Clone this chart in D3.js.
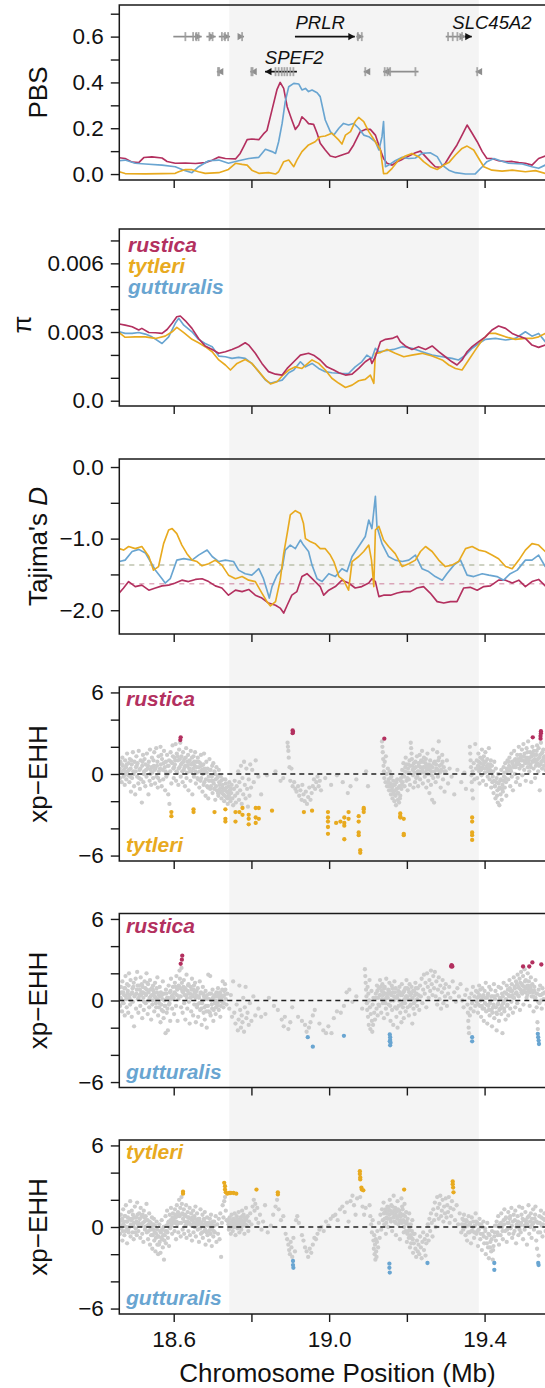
<!DOCTYPE html>
<html>
<head>
<meta charset="utf-8">
<script src="https://cdn.jsdelivr.net/npm/d3@7"></script>
<style>
  html, body { margin: 0; padding: 0; background: #fff; }
  svg { display: block; font-family: "Liberation Sans", Arial, Helvetica, sans-serif; }
</style>
</head>
<body>
<svg id="chart" width="545" height="1388"></svg>
<script>
// ---------------- data ----------------
// sliding-window statistics: [position (Mb), value]
const pbsRustica = [[18.460,0.071],[18.475,0.068],[18.493,0.052],[18.510,0.050],[18.523,0.072],[18.544,0.075],[18.570,0.070],[18.583,0.055],[18.604,0.047],[18.630,0.048],[18.656,0.046],[18.681,0.050],[18.699,0.060],[18.716,0.074],[18.733,0.068],[18.759,0.066],[18.771,0.090],[18.780,0.120],[18.789,0.150],[18.801,0.153],[18.819,0.150],[18.831,0.175],[18.840,0.190],[18.853,0.280],[18.866,0.370],[18.874,0.400],[18.883,0.374],[18.892,0.294],[18.904,0.236],[18.913,0.195],[18.922,0.214],[18.930,0.250],[18.939,0.236],[18.947,0.220],[18.960,0.217],[18.969,0.178],[18.977,0.134],[18.990,0.105],[19.003,0.079],[19.016,0.073],[19.033,0.083],[19.050,0.093],[19.063,0.127],[19.080,0.185],[19.093,0.195],[19.106,0.195],[19.119,0.170],[19.132,0.105],[19.140,0.068],[19.149,0.047],[19.162,0.039],[19.175,0.054],[19.188,0.064],[19.205,0.079],[19.222,0.093],[19.235,0.100],[19.248,0.076],[19.260,0.054],[19.273,0.032],[19.286,0.029],[19.299,0.047],[19.312,0.083],[19.329,0.127],[19.342,0.170],[19.355,0.214],[19.368,0.178],[19.381,0.141],[19.394,0.098],[19.406,0.068],[19.419,0.068],[19.436,0.058],[19.454,0.054],[19.471,0.055],[19.488,0.050],[19.505,0.047],[19.522,0.039],[19.539,0.068],[19.556,0.079],[19.580,0.082]];
const pbsTytleri = [[18.460,0.010],[18.475,0.002],[18.527,0.001],[18.570,0.002],[18.604,0.003],[18.613,0.010],[18.630,0.020],[18.647,0.019],[18.664,0.010],[18.681,0.003],[18.716,0.006],[18.741,0.020],[18.759,0.047],[18.776,0.042],[18.789,0.039],[18.801,0.017],[18.819,0.003],[18.844,0.006],[18.862,0.000],[18.870,0.010],[18.883,0.054],[18.896,0.061],[18.909,0.032],[18.917,0.061],[18.930,0.098],[18.947,0.127],[18.964,0.141],[18.977,0.163],[18.990,0.166],[19.007,0.178],[19.025,0.148],[19.033,0.131],[19.042,0.170],[19.055,0.185],[19.067,0.229],[19.076,0.247],[19.089,0.229],[19.102,0.185],[19.119,0.141],[19.132,0.105],[19.140,0.002],[19.149,0.003],[19.162,0.025],[19.179,0.061],[19.196,0.079],[19.213,0.090],[19.230,0.076],[19.243,0.054],[19.260,0.032],[19.278,0.020],[19.295,0.039],[19.308,0.050],[19.325,0.083],[19.342,0.112],[19.355,0.122],[19.372,0.105],[19.385,0.068],[19.398,0.032],[19.419,0.017],[19.445,0.013],[19.471,0.017],[19.505,0.010],[19.531,0.015],[19.556,0.003],[19.580,0.004]];
const pbsGutturalis = [[18.460,0.058],[18.475,0.061],[18.501,0.047],[18.527,0.044],[18.570,0.039],[18.604,0.032],[18.626,0.017],[18.647,0.006],[18.664,0.032],[18.690,0.058],[18.716,0.061],[18.741,0.047],[18.767,0.058],[18.793,0.068],[18.819,0.073],[18.836,0.108],[18.853,0.098],[18.862,0.090],[18.870,0.141],[18.879,0.221],[18.887,0.316],[18.896,0.381],[18.909,0.396],[18.922,0.393],[18.930,0.367],[18.939,0.374],[18.947,0.360],[18.956,0.367],[18.969,0.355],[18.977,0.338],[18.990,0.236],[19.003,0.185],[19.012,0.170],[19.025,0.200],[19.037,0.221],[19.050,0.214],[19.063,0.221],[19.076,0.200],[19.089,0.170],[19.102,0.163],[19.119,0.141],[19.128,0.105],[19.136,0.163],[19.140,0.229],[19.145,0.032],[19.153,0.039],[19.170,0.058],[19.188,0.073],[19.205,0.068],[19.222,0.070],[19.239,0.090],[19.260,0.093],[19.278,0.076],[19.291,0.039],[19.308,0.017],[19.325,0.006],[19.351,0.000],[19.376,0.001],[19.394,0.032],[19.406,0.054],[19.424,0.068],[19.441,0.058],[19.462,0.047],[19.497,0.044],[19.522,0.032],[19.539,0.025],[19.556,0.039],[19.580,0.042]];

const piRustica = [[18.460,0.00335],[18.475,0.00330],[18.493,0.00323],[18.510,0.00309],[18.518,0.00316],[18.536,0.00298],[18.553,0.00297],[18.570,0.00294],[18.583,0.00311],[18.596,0.00338],[18.608,0.00367],[18.617,0.00370],[18.630,0.00349],[18.647,0.00316],[18.664,0.00272],[18.681,0.00239],[18.699,0.00224],[18.716,0.00207],[18.733,0.00214],[18.750,0.00224],[18.767,0.00236],[18.784,0.00253],[18.793,0.00243],[18.810,0.00207],[18.827,0.00163],[18.844,0.00127],[18.862,0.00116],[18.879,0.00112],[18.892,0.00141],[18.909,0.00170],[18.926,0.00199],[18.947,0.00207],[18.960,0.00199],[18.977,0.00178],[18.994,0.00148],[19.012,0.00134],[19.025,0.00122],[19.042,0.00112],[19.059,0.00116],[19.076,0.00141],[19.093,0.00170],[19.106,0.00185],[19.110,0.00163],[19.119,0.00192],[19.132,0.00258],[19.145,0.00268],[19.162,0.00272],[19.175,0.00282],[19.183,0.00258],[19.196,0.00239],[19.213,0.00224],[19.230,0.00236],[19.248,0.00224],[19.265,0.00239],[19.282,0.00214],[19.299,0.00192],[19.316,0.00170],[19.329,0.00156],[19.342,0.00178],[19.355,0.00214],[19.368,0.00236],[19.385,0.00258],[19.402,0.00279],[19.419,0.00309],[19.436,0.00326],[19.454,0.00316],[19.471,0.00294],[19.488,0.00282],[19.505,0.00272],[19.522,0.00243],[19.539,0.00233],[19.556,0.00243],[19.580,0.00245]];
const piTytleri = [[18.460,0.00297],[18.475,0.00277],[18.501,0.00279],[18.527,0.00279],[18.553,0.00272],[18.578,0.00282],[18.596,0.00301],[18.608,0.00320],[18.626,0.00297],[18.647,0.00268],[18.664,0.00253],[18.681,0.00236],[18.699,0.00214],[18.716,0.00178],[18.733,0.00156],[18.746,0.00134],[18.763,0.00163],[18.784,0.00180],[18.801,0.00163],[18.819,0.00127],[18.836,0.00093],[18.849,0.00073],[18.866,0.00083],[18.879,0.00108],[18.896,0.00134],[18.913,0.00148],[18.930,0.00141],[18.956,0.00178],[18.973,0.00163],[18.990,0.00134],[19.007,0.00098],[19.025,0.00076],[19.042,0.00058],[19.059,0.00068],[19.076,0.00087],[19.093,0.00093],[19.106,0.00112],[19.115,0.00076],[19.119,0.00207],[19.132,0.00210],[19.149,0.00224],[19.170,0.00207],[19.192,0.00192],[19.213,0.00199],[19.239,0.00207],[19.265,0.00195],[19.291,0.00178],[19.308,0.00156],[19.325,0.00141],[19.342,0.00134],[19.359,0.00178],[19.376,0.00221],[19.394,0.00265],[19.411,0.00294],[19.428,0.00294],[19.454,0.00279],[19.479,0.00268],[19.505,0.00272],[19.522,0.00272],[19.539,0.00279],[19.556,0.00294],[19.580,0.00290]];
const piGutturalis = [[18.460,0.00301],[18.475,0.00294],[18.493,0.00294],[18.510,0.00298],[18.527,0.00291],[18.544,0.00279],[18.570,0.00250],[18.587,0.00279],[18.604,0.00338],[18.613,0.00360],[18.626,0.00330],[18.647,0.00301],[18.664,0.00268],[18.681,0.00250],[18.699,0.00236],[18.716,0.00195],[18.733,0.00192],[18.750,0.00185],[18.767,0.00189],[18.784,0.00185],[18.801,0.00163],[18.819,0.00127],[18.836,0.00090],[18.849,0.00076],[18.862,0.00083],[18.879,0.00090],[18.896,0.00122],[18.909,0.00134],[18.926,0.00170],[18.939,0.00148],[18.956,0.00163],[18.973,0.00141],[18.990,0.00127],[19.007,0.00122],[19.033,0.00119],[19.050,0.00119],[19.067,0.00148],[19.084,0.00170],[19.097,0.00199],[19.110,0.00185],[19.119,0.00229],[19.128,0.00214],[19.145,0.00218],[19.166,0.00224],[19.188,0.00236],[19.213,0.00229],[19.239,0.00214],[19.265,0.00199],[19.291,0.00192],[19.316,0.00185],[19.333,0.00178],[19.351,0.00199],[19.368,0.00229],[19.385,0.00250],[19.402,0.00268],[19.428,0.00272],[19.454,0.00265],[19.479,0.00272],[19.505,0.00301],[19.522,0.00282],[19.539,0.00294],[19.556,0.00258],[19.580,0.00262]];

const tajRustica = [[18.460,-1.76],[18.471,-1.69],[18.484,-1.60],[18.501,-1.67],[18.518,-1.65],[18.536,-1.72],[18.553,-1.69],[18.570,-1.66],[18.587,-1.65],[18.604,-1.62],[18.621,-1.58],[18.638,-1.60],[18.656,-1.57],[18.673,-1.56],[18.690,-1.60],[18.707,-1.66],[18.724,-1.69],[18.741,-1.79],[18.759,-1.72],[18.776,-1.74],[18.793,-1.71],[18.810,-1.79],[18.827,-1.83],[18.844,-1.90],[18.862,-1.93],[18.874,-1.97],[18.883,-2.04],[18.892,-1.93],[18.904,-1.79],[18.917,-1.74],[18.930,-1.53],[18.943,-1.49],[18.951,-1.53],[18.964,-1.60],[18.977,-1.67],[18.986,-1.79],[18.999,-1.72],[19.016,-1.67],[19.033,-1.58],[19.050,-1.62],[19.067,-1.69],[19.084,-1.67],[19.102,-1.62],[19.110,-1.56],[19.119,-1.60],[19.128,-1.81],[19.140,-1.79],[19.158,-1.79],[19.175,-1.76],[19.192,-1.74],[19.209,-1.74],[19.226,-1.69],[19.243,-1.67],[19.260,-1.76],[19.278,-1.88],[19.295,-1.90],[19.312,-1.88],[19.329,-1.88],[19.346,-1.69],[19.363,-1.68],[19.381,-1.72],[19.398,-1.67],[19.415,-1.66],[19.436,-1.58],[19.454,-1.58],[19.471,-1.62],[19.488,-1.58],[19.505,-1.67],[19.522,-1.60],[19.539,-1.57],[19.556,-1.66],[19.580,-1.64]];
const tajTytleri = [[18.460,-1.14],[18.471,-1.16],[18.484,-1.11],[18.501,-1.14],[18.518,-1.11],[18.536,-1.25],[18.548,-1.44],[18.561,-1.39],[18.574,-1.07],[18.587,-0.88],[18.596,-0.86],[18.608,-0.93],[18.621,-1.09],[18.634,-1.21],[18.647,-1.30],[18.660,-1.32],[18.673,-1.38],[18.690,-1.35],[18.707,-1.30],[18.724,-1.37],[18.741,-1.51],[18.759,-1.56],[18.776,-1.53],[18.793,-1.58],[18.810,-1.60],[18.827,-1.76],[18.840,-1.88],[18.849,-1.94],[18.862,-1.88],[18.874,-1.58],[18.883,-1.21],[18.892,-0.93],[18.900,-0.67],[18.913,-0.61],[18.926,-0.65],[18.934,-0.79],[18.939,-1.00],[18.951,-1.04],[18.964,-1.07],[18.977,-1.14],[18.990,-1.14],[19.003,-1.23],[19.012,-1.32],[19.025,-1.53],[19.037,-1.58],[19.050,-1.72],[19.059,-1.32],[19.076,-1.25],[19.089,-1.18],[19.102,-1.09],[19.109,-1.30],[19.115,-1.67],[19.119,-0.88],[19.128,-0.83],[19.140,-1.02],[19.153,-1.11],[19.170,-1.21],[19.188,-1.39],[19.205,-1.35],[19.222,-1.30],[19.235,-1.18],[19.248,-1.11],[19.265,-1.18],[19.282,-1.30],[19.299,-1.39],[19.316,-1.37],[19.333,-1.32],[19.351,-1.14],[19.368,-1.11],[19.385,-1.16],[19.402,-1.18],[19.419,-1.23],[19.436,-1.28],[19.454,-1.39],[19.471,-1.42],[19.488,-1.30],[19.505,-1.16],[19.522,-1.07],[19.539,-1.09],[19.556,-1.18],[19.580,-1.20]];
const tajGutturalis = [[18.460,-1.32],[18.475,-1.30],[18.493,-1.18],[18.510,-1.15],[18.527,-1.20],[18.540,-1.32],[18.553,-1.44],[18.570,-1.56],[18.578,-1.62],[18.591,-1.56],[18.608,-1.30],[18.626,-1.28],[18.647,-1.30],[18.664,-1.23],[18.686,-1.16],[18.699,-1.25],[18.716,-1.32],[18.733,-1.30],[18.754,-1.32],[18.767,-1.44],[18.784,-1.49],[18.801,-1.51],[18.819,-1.42],[18.831,-1.56],[18.840,-1.72],[18.846,-1.83],[18.853,-1.67],[18.866,-1.51],[18.879,-1.42],[18.887,-1.16],[18.900,-1.09],[18.913,-1.14],[18.926,-1.02],[18.934,-1.09],[18.947,-1.18],[18.956,-1.37],[18.969,-1.56],[18.982,-1.60],[18.999,-1.49],[19.016,-1.53],[19.033,-1.42],[19.046,-1.46],[19.059,-1.25],[19.076,-1.11],[19.093,-0.97],[19.102,-0.74],[19.110,-0.86],[19.119,-0.41],[19.123,-0.83],[19.136,-1.07],[19.153,-1.25],[19.170,-1.30],[19.188,-1.32],[19.205,-1.30],[19.222,-1.23],[19.239,-1.42],[19.256,-1.46],[19.273,-1.53],[19.291,-1.58],[19.303,-1.49],[19.321,-1.37],[19.338,-1.30],[19.355,-1.51],[19.372,-1.53],[19.394,-1.49],[19.411,-1.51],[19.432,-1.53],[19.449,-1.58],[19.466,-1.49],[19.484,-1.44],[19.505,-1.30],[19.522,-1.30],[19.539,-1.23],[19.556,-1.39],[19.580,-1.36]];
// genome-wide mean Tajima's D per population
const tajMeans = [["rustica",-1.63],["tytleri",-1.37],["gutturalis",-1.37]];

// xp-EHH per SNP: [position (Mb), score]; gray = not significant
const xpRusTytGray = [[18.461,0.4],[18.462,-0.3],[18.463,0.9],[18.465,0.1],[18.466,-0.6],[18.468,1.2],[18.469,0.6],[18.471,-0.2],[18.472,0.3],[18.474,-0.8],[18.475,1.0],[18.477,0.5],[18.478,-0.4],[18.480,1.5],[18.481,0.2],[18.483,-0.1],[18.484,0.8],[18.486,-0.6],[18.487,1.1],[18.489,0.4],[18.490,-1.3],[18.492,0.7],[18.493,-0.3],[18.495,1.6],[18.496,0.2],[18.498,-0.9],[18.499,0.9],[18.501,-1.5],[18.503,0.5],[18.504,1.3],[18.506,-0.2],[18.507,0.8],[18.509,-0.7],[18.510,1.7],[18.512,0.3],[18.513,-1.1],[18.515,1.0],[18.516,-0.4],[18.518,-2.1],[18.519,0.6],[18.521,1.4],[18.522,-0.6],[18.524,0.2],[18.525,1.1],[18.527,-0.9],[18.528,0.7],[18.530,-0.2],[18.531,1.5],[18.533,0.4],[18.535,-1.5],[18.536,0.9],[18.538,-0.5],[18.539,1.8],[18.541,0.3],[18.542,-0.8],[18.544,1.2],[18.545,0.1],[18.547,-0.3],[18.549,0.6],[18.550,1.6],[18.552,-0.7],[18.553,0.4],[18.555,1.9],[18.556,-0.2],[18.558,0.9],[18.559,-1.0],[18.561,1.3],[18.562,0.2],[18.564,-0.5],[18.566,2.0],[18.567,0.7],[18.569,-0.9],[18.570,1.1],[18.572,0.3],[18.573,-0.4],[18.575,1.7],[18.577,0.5],[18.578,-1.2],[18.580,0.9],[18.581,-0.2],[18.583,1.4],[18.585,0.6],[18.586,-1.5],[18.588,1.0],[18.589,-2.2],[18.591,0.2],[18.592,1.6],[18.594,-0.7],[18.596,0.8],[18.597,2.1],[18.599,0.4],[18.600,-0.3],[18.602,1.2],[18.603,0.7],[18.605,2.2],[18.606,-0.5],[18.608,1.5],[18.609,0.1],[18.611,1.0],[18.612,-0.8],[18.614,1.8],[18.615,0.5],[18.617,2.3],[18.618,-0.2],[18.620,1.3],[18.621,0.8],[18.623,-0.6],[18.624,1.6],[18.626,0.3],[18.627,1.1],[18.629,-0.9],[18.630,0.6],[18.632,1.9],[18.633,-0.3],[18.635,0.9],[18.637,1.4],[18.638,-1.2],[18.640,0.4],[18.641,1.0],[18.643,-0.5],[18.644,1.7],[18.646,0.2],[18.648,-1.5],[18.649,0.8],[18.651,1.3],[18.652,-0.2],[18.654,0.6],[18.655,1.6],[18.657,-0.7],[18.658,0.9],[18.660,0.1],[18.662,1.2],[18.663,-0.4],[18.665,0.5],[18.666,-1.0],[18.668,0.8],[18.670,1.4],[18.671,-0.3],[18.673,0.3],[18.674,-1.3],[18.676,0.7],[18.678,1.5],[18.679,-0.6],[18.681,0.2],[18.682,-1.6],[18.684,0.9],[18.686,-0.9],[18.687,0.4],[18.689,-1.8],[18.690,-0.2],[18.692,1.1],[18.694,-1.1],[18.695,0.3],[18.697,-0.5],[18.699,0.6],[18.700,-1.4],[18.702,0.8],[18.703,-0.7],[18.705,0.2],[18.707,-1.9],[18.708,-0.4],[18.710,0.5],[18.711,-1.2],[18.713,-0.1],[18.715,-1.6],[18.716,0.3],[18.718,-0.8],[18.720,-1.3],[18.722,-0.5],[18.723,-1.8],[18.725,-1.0],[18.727,-0.4],[18.728,-1.5],[18.730,-2.0],[18.732,-1.1],[18.734,-0.7],[18.735,-1.7],[18.737,-1.3],[18.739,-2.2],[18.741,-0.9],[18.742,-1.6],[18.744,-1.2],[18.746,-2.0],[18.748,-1.4],[18.749,-0.8],[18.751,-1.8],[18.753,-2.3],[18.755,-1.1],[18.757,-0.5],[18.758,-1.6],[18.760,-2.1],[18.762,-0.9],[18.764,-1.4],[18.766,0.2],[18.768,-1.9],[18.769,-0.6],[18.771,-1.2],[18.773,0.6],[18.775,-2.2],[18.777,-0.3],[18.779,-1.5],[18.781,0.9],[18.783,-0.8],[18.785,-1.8],[18.787,0.4],[18.789,-1.1],[18.791,-2.4],[18.793,-0.4],[18.795,-1.6],[18.797,0.7],[18.799,-1.0],[18.802,0.3],[18.806,-0.6],[18.811,1.0],[18.818,-0.2],[18.825,-1.5],[18.840,-0.1],[18.862,0.2],[18.875,-0.5],[18.882,-0.3],[18.893,2.3],[18.894,2.0],[18.895,1.7],[18.896,1.2],[18.898,0.5],[18.900,-0.5],[18.903,0.4],[18.906,-0.9],[18.910,-0.6],[18.913,-1.1],[18.916,-1.3],[18.920,-0.9],[18.923,-1.6],[18.926,-1.2],[18.929,-1.9],[18.931,-0.8],[18.934,-1.5],[18.937,-2.0],[18.940,-1.3],[18.943,-2.2],[18.946,-1.7],[18.949,-1.0],[18.952,-1.9],[18.955,-1.4],[18.958,-0.9],[18.961,-0.4],[18.964,-1.1],[18.967,-0.6],[18.970,-0.2],[18.973,-0.9],[18.976,-0.5],[18.979,-1.2],[18.990,-0.3],[19.005,-0.8],[19.020,-0.1],[19.035,-0.6],[19.048,-1.4],[19.055,-0.9],[19.070,-0.4],[19.095,0.2],[19.100,-0.9],[19.136,2.4],[19.137,2.0],[19.138,1.6],[19.139,1.1],[19.140,0.6],[19.141,0.2],[19.142,-0.3],[19.143,0.9],[19.145,-0.6],[19.146,1.3],[19.148,0.0],[19.149,-0.9],[19.151,0.4],[19.153,-0.4],[19.154,-1.2],[19.156,0.2],[19.157,-0.7],[19.159,-1.5],[19.160,-0.2],[19.162,-1.0],[19.163,-1.8],[19.165,-0.5],[19.166,-1.3],[19.168,-2.0],[19.169,-0.8],[19.171,-1.6],[19.172,-2.3],[19.174,-1.1],[19.175,-0.4],[19.177,-1.9],[19.178,-1.4],[19.180,-2.1],[19.181,-0.9],[19.183,-1.6],[19.185,-0.3],[19.186,-1.1],[19.188,0.3],[19.189,-0.6],[19.191,0.8],[19.193,-0.2],[19.194,-0.9],[19.196,0.5],[19.197,1.2],[19.199,-0.5],[19.200,0.1],[19.202,-1.2],[19.204,0.7],[19.205,-0.4],[19.207,1.0],[19.208,-0.8],[19.210,2.3],[19.211,1.9],[19.212,1.5],[19.213,1.1],[19.214,0.6],[19.216,-0.1],[19.217,-1.0],[19.219,0.4],[19.221,-0.6],[19.222,0.9],[19.224,-0.3],[19.226,1.3],[19.228,0.2],[19.229,-0.9],[19.231,0.6],[19.233,1.4],[19.234,-0.4],[19.236,0.9],[19.238,0.1],[19.239,1.7],[19.241,-0.7],[19.243,0.5],[19.244,1.2],[19.246,-0.2],[19.248,0.8],[19.250,-1.0],[19.251,0.3],[19.253,1.5],[19.255,-0.5],[19.257,0.7],[19.258,-1.4],[19.260,1.0],[19.262,-0.8],[19.263,0.2],[19.265,-1.9],[19.267,1.8],[19.268,-0.3],[19.270,-2.1],[19.272,0.9],[19.274,-0.6],[19.276,0.4],[19.278,1.6],[19.280,-0.2],[19.282,2.4],[19.283,1.2],[19.285,0.1],[19.287,-1.0],[19.289,0.7],[19.291,1.4],[19.293,-0.4],[19.295,0.5],[19.297,-1.3],[19.300,0.2],[19.303,1.0],[19.306,-0.7],[19.310,0.4],[19.315,-0.2],[19.322,-1.5],[19.330,0.3],[19.340,-0.6],[19.348,0.1],[19.352,-1.1],[19.362,2.0],[19.363,1.5],[19.364,1.0],[19.365,0.5],[19.366,-0.1],[19.367,-0.6],[19.368,-1.2],[19.369,0.2],[19.370,-1.8],[19.372,0.8],[19.374,-0.4],[19.376,2.2],[19.378,0.4],[19.380,1.0],[19.381,-0.3],[19.383,0.6],[19.384,1.5],[19.386,0.2],[19.387,-0.7],[19.389,1.2],[19.390,0.8],[19.392,-0.1],[19.393,1.8],[19.395,0.5],[19.396,-0.5],[19.398,1.3],[19.399,0.9],[19.401,0.1],[19.402,1.6],[19.404,-0.8],[19.405,0.4],[19.407,1.1],[19.408,-0.2],[19.410,0.7],[19.411,1.9],[19.413,-0.4],[19.414,0.3],[19.416,1.0],[19.417,-1.0],[19.419,0.6],[19.420,-0.6],[19.422,0.2],[19.423,-1.4],[19.425,0.9],[19.426,-0.9],[19.428,-1.8],[19.429,0.4],[19.431,-0.3],[19.432,-1.6],[19.434,-2.1],[19.435,0.0],[19.437,-1.1],[19.438,-2.3],[19.440,-0.5],[19.441,-1.5],[19.443,0.3],[19.444,-1.9],[19.446,-0.8],[19.447,-1.3],[19.449,0.5],[19.450,-0.2],[19.452,-1.0],[19.453,0.8],[19.455,-0.6],[19.456,-1.6],[19.458,0.2],[19.459,1.0],[19.461,-0.4],[19.463,0.6],[19.464,1.2],[19.466,-0.9],[19.467,0.3],[19.469,1.5],[19.470,-0.2],[19.472,0.8],[19.473,-1.2],[19.475,0.5],[19.476,1.7],[19.478,0.0],[19.479,1.1],[19.481,-0.6],[19.482,0.7],[19.484,1.4],[19.485,-0.3],[19.487,0.9],[19.488,2.0],[19.490,0.4],[19.491,-0.8],[19.493,1.2],[19.494,0.6],[19.496,1.8],[19.497,-0.1],[19.499,1.0],[19.500,2.2],[19.502,0.3],[19.503,1.5],[19.505,0.8],[19.506,-0.5],[19.508,1.9],[19.509,1.2],[19.511,0.5],[19.512,2.4],[19.514,1.0],[19.515,0.2],[19.517,1.6],[19.518,0.7],[19.520,-0.6],[19.521,1.3],[19.523,2.0],[19.524,0.9],[19.526,0.4],[19.527,1.7],[19.529,1.1],[19.530,-0.3],[19.532,0.6],[19.533,1.4],[19.535,2.1],[19.536,0.8],[19.538,0.2],[19.539,1.9],[19.541,1.2],[19.542,-1.2],[19.544,0.7],[19.545,2.3],[19.547,1.5],[19.548,0.4],[19.550,1.0],[19.551,1.8],[19.553,0.6],[19.555,1.3],[19.557,0.3],[19.560,1.1],[19.565,0.8],[19.570,1.4]];
const xpRusTytGrayCore = [[18.463,0.2],[18.467,0.7],[18.473,-0.1],[18.476,0.1],[18.479,0.7],[18.485,0.3],[18.488,-0.2],[18.491,1.0],[18.497,0.0],[18.502,0.2],[18.505,0.6],[18.511,-0.3],[18.514,0.4],[18.520,0.9],[18.523,0.0],[18.529,0.3],[18.534,0.6],[18.540,0.0],[18.543,0.5],[18.548,1.0],[18.551,0.3],[18.557,0.6],[18.560,-0.3],[18.565,0.4],[18.568,1.4],[18.574,0.8],[18.579,0.2],[18.584,0.0],[18.587,0.6],[18.593,0.9],[18.598,1.3],[18.601,0.5],[18.604,1.0],[18.607,0.2],[18.610,1.3],[18.613,0.4],[18.616,1.1],[18.619,0.7],[18.622,0.2],[18.625,0.9],[18.628,0.5],[18.631,1.2],[18.634,0.1],[18.636,0.6],[18.639,0.9],[18.642,0.2],[18.645,0.7],[18.647,1.2],[18.650,0.4],[18.653,0.9],[18.656,0.2],[18.659,0.5],[18.661,-0.3],[18.664,0.9],[18.667,0.2],[18.669,-0.5],[18.672,0.6],[18.675,0.0],[18.677,-0.8],[18.680,0.4],[18.683,-0.4],[18.685,0.1],[18.688,-1.0],[18.691,-0.5],[18.693,0.3],[18.696,-0.9],[18.698,-0.2],[18.701,-0.5],[18.704,-1.1],[18.706,0.0],[18.709,-0.9],[18.712,-0.3],[18.714,-1.4],[18.717,-0.6],[18.719,-1.1],[18.721,-0.2],[18.724,-1.4],[18.726,-0.8],[18.729,-1.2],[18.731,-1.6],[18.733,-0.4],[18.736,-1.0],[18.738,-1.8],[18.740,-1.4],[18.743,-0.6],[18.745,-1.8],[18.747,-1.1],[19.152,-0.6],[19.155,-0.9],[19.158,-0.3],[19.161,-1.2],[19.164,-0.8],[19.167,-1.5],[19.170,-1.2],[19.173,-0.6],[19.176,-1.4],[19.179,-1.0],[19.182,-1.8],[19.184,-0.5],[19.187,-0.8],[19.190,-0.1],[19.195,0.2],[19.198,0.7],[19.201,-0.3],[19.203,0.4],[19.206,0.1],[19.209,0.6],[19.215,0.3],[19.218,0.8],[19.220,0.1],[19.223,0.5],[19.227,-0.2],[19.230,0.8],[19.232,0.2],[19.235,0.5],[19.237,1.0],[19.240,0.3],[19.242,0.9],[19.245,0.1],[19.247,0.5],[19.249,1.1],[19.252,0.6],[19.254,0.0],[19.256,0.4],[19.259,0.3],[19.261,0.6],[19.264,-0.1],[19.266,0.5],[19.269,0.8],[19.271,0.2],[19.275,0.7],[19.279,0.3],[19.281,1.0],[19.284,0.6],[19.288,0.3],[19.292,0.9],[19.296,0.2],[19.382,0.4],[19.385,0.9],[19.388,0.5],[19.391,0.3],[19.394,1.1],[19.397,0.7],[19.400,0.4],[19.403,0.9],[19.406,0.6],[19.409,0.2],[19.412,0.5],[19.415,0.7],[19.418,0.1],[19.421,-0.2],[19.424,-0.5],[19.427,-0.9],[19.430,-0.6],[19.433,-1.2],[19.436,-0.7],[19.439,-1.0],[19.442,-0.4],[19.445,-1.1],[19.448,-0.5],[19.451,0.1],[19.454,-0.3],[19.457,0.4],[19.460,0.3],[19.462,0.9],[19.465,0.5],[19.468,0.2],[19.471,0.9],[19.474,0.6],[19.477,1.0],[19.480,0.5],[19.483,0.9],[19.486,1.1],[19.489,0.7],[19.492,1.4],[19.495,1.0],[19.498,0.6],[19.501,1.3],[19.504,0.9],[19.507,1.1],[19.510,1.6],[19.513,0.8],[19.516,1.2],[19.519,0.5],[19.522,1.5],[19.525,1.0],[19.528,1.4],[19.531,0.9],[19.534,1.7],[19.537,1.1],[19.540,0.6],[19.543,1.4],[19.546,0.9],[19.549,1.6],[19.552,1.2],[19.556,0.9]];
const xpRusTytRustica = [[18.617,2.5],[18.618,2.7],[18.906,3.0],[18.906,3.2],[18.907,3.1],[19.142,2.6],[19.524,2.7],[19.544,2.6],[19.544,2.8],[19.545,3.0],[19.545,3.15]];
const xpRusTytTytleri = [[18.594,-2.8],[18.594,-3.1],[18.651,-2.6],[18.651,-2.8],[18.705,-2.8],[18.733,-2.6],[18.733,-3.3],[18.733,-3.5],[18.759,-2.8],[18.759,-3.5],[18.769,-2.8],[18.777,-2.5],[18.777,-3.0],[18.793,-3.0],[18.793,-3.3],[18.793,-3.7],[18.811,-2.5],[18.811,-3.2],[18.811,-3.6],[18.819,-2.5],[18.819,-3.3],[18.853,-2.7],[18.935,-2.8],[18.956,-2.7],[18.997,-2.8],[18.997,-3.2],[18.997,-3.5],[18.997,-3.9],[18.997,-4.4],[19.018,-3.6],[19.029,-3.5],[19.039,-3.2],[19.039,-3.6],[19.039,-3.8],[19.039,-4.8],[19.050,-2.8],[19.050,-3.3],[19.076,-3.1],[19.076,-3.5],[19.076,-4.3],[19.076,-4.5],[19.080,-5.6],[19.080,-5.8],[19.089,-2.5],[19.089,-2.6],[19.089,-2.8],[19.183,-2.9],[19.183,-3.1],[19.183,-3.2],[19.192,-3.3],[19.192,-4.4],[19.192,-4.5],[19.368,-3.2],[19.368,-3.5],[19.368,-4.3],[19.368,-4.5],[19.368,-4.85]];

const xpRusGutGray = [[18.461,0.5],[18.462,-0.4],[18.464,1.0],[18.465,0.1],[18.467,-0.8],[18.468,1.4],[18.470,0.6],[18.471,-0.2],[18.473,0.9],[18.474,-1.1],[18.476,1.8],[18.477,0.3],[18.479,-0.5],[18.480,1.2],[18.482,0.7],[18.483,-0.9],[18.485,2.0],[18.486,0.2],[18.488,-0.3],[18.489,1.5],[18.491,0.5],[18.492,-1.2],[18.494,0.9],[18.495,-0.1],[18.497,1.3],[18.498,-1.9],[18.500,0.4],[18.502,1.6],[18.503,-0.6],[18.505,0.8],[18.506,2.1],[18.508,0.1],[18.509,-0.9],[18.511,1.1],[18.512,0.4],[18.514,-0.4],[18.515,1.7],[18.517,0.6],[18.519,-1.3],[18.520,1.0],[18.522,0.2],[18.523,-0.7],[18.525,1.4],[18.526,0.5],[18.528,-0.2],[18.530,2.0],[18.531,0.8],[18.533,-1.0],[18.534,1.2],[18.536,0.0],[18.537,-0.5],[18.539,1.5],[18.541,0.3],[18.542,-1.4],[18.544,0.9],[18.545,-0.3],[18.547,1.1],[18.549,0.5],[18.550,-0.8],[18.552,1.3],[18.553,0.2],[18.555,-0.5],[18.556,0.9],[18.558,1.7],[18.560,-1.1],[18.561,0.4],[18.563,-0.2],[18.564,1.0],[18.566,-1.6],[18.567,0.6],[18.569,-0.7],[18.571,0.1],[18.572,1.4],[18.574,-1.3],[18.575,0.5],[18.577,-0.4],[18.579,-2.4],[18.580,0.8],[18.582,-0.9],[18.583,0.2],[18.585,-2.2],[18.587,1.1],[18.588,-0.3],[18.590,0.6],[18.591,-1.5],[18.593,1.6],[18.595,0.3],[18.596,-0.6],[18.598,1.0],[18.600,0.2],[18.601,-1.0],[18.603,1.3],[18.604,0.5],[18.606,-0.4],[18.607,1.8],[18.609,0.8],[18.610,-1.5],[18.612,0.1],[18.613,1.1],[18.615,2.2],[18.616,1.6],[18.617,0.9],[18.618,0.3],[18.619,-0.5],[18.620,2.4],[18.621,1.3],[18.623,-0.9],[18.624,0.6],[18.626,1.5],[18.627,-0.2],[18.629,0.9],[18.630,-1.4],[18.632,0.4],[18.633,1.9],[18.635,-0.6],[18.636,0.7],[18.638,1.2],[18.639,-0.1],[18.641,-1.7],[18.642,0.5],[18.644,1.0],[18.645,-0.8],[18.647,1.6],[18.648,0.3],[18.650,-1.1],[18.651,0.8],[18.653,-0.3],[18.655,1.3],[18.657,-1.6],[18.658,0.4],[18.660,-0.5],[18.662,0.9],[18.663,-1.2],[18.665,0.2],[18.667,1.4],[18.668,-0.7],[18.670,0.6],[18.672,-1.8],[18.673,-0.2],[18.675,1.0],[18.677,-0.9],[18.678,0.3],[18.680,-1.4],[18.682,0.7],[18.683,-0.4],[18.685,-2.0],[18.687,0.1],[18.689,1.9],[18.690,-0.8],[18.692,0.5],[18.694,1.8],[18.695,-1.1],[18.697,0.0],[18.699,-0.6],[18.700,0.8],[18.702,-1.5],[18.704,0.3],[18.706,-0.2],[18.708,-1.0],[18.710,0.6],[18.712,-0.4],[18.714,0.9],[18.716,-0.7],[18.718,0.2],[18.720,-1.2],[18.722,0.4],[18.724,-0.1],[18.726,1.4],[18.728,-0.5],[18.730,0.7],[18.732,1.2],[18.734,0.1],[18.736,-0.3],[18.738,0.5],[18.743,-0.6],[18.747,0.4],[18.750,-1.2],[18.753,1.4],[18.756,-0.9],[18.759,-1.7],[18.762,-0.3],[18.765,-2.2],[18.767,-1.4],[18.769,1.1],[18.771,-0.7],[18.773,-2.0],[18.775,-1.1],[18.777,-1.6],[18.779,0.2],[18.781,-2.3],[18.783,-0.5],[18.785,1.0],[18.787,-1.3],[18.790,-0.9],[18.793,-1.8],[18.796,-0.2],[18.800,-1.5],[18.805,0.3],[18.810,-1.1],[18.818,-0.6],[18.825,-1.2],[18.836,-1.0],[18.845,0.2],[18.858,-0.4],[18.868,-0.7],[18.878,-1.4],[18.883,-1.9],[18.886,-1.2],[18.895,-2.1],[18.900,-1.6],[18.905,-0.5],[18.920,-1.2],[18.930,-1.5],[18.938,-1.8],[18.942,-2.3],[18.948,-2.0],[18.952,-1.6],[18.958,-1.1],[18.963,-0.7],[18.975,-1.7],[18.985,-2.2],[18.992,-2.4],[18.998,-1.9],[19.006,-2.4],[19.012,-1.3],[19.020,-0.8],[19.030,-0.9],[19.038,-0.4],[19.045,0.6],[19.052,0.8],[19.060,-0.1],[19.070,0.3],[19.085,-0.6],[19.092,2.3],[19.093,1.8],[19.094,1.3],[19.095,0.8],[19.096,0.3],[19.097,-0.2],[19.098,-0.7],[19.099,1.0],[19.100,-1.2],[19.101,0.5],[19.102,-1.8],[19.103,0.0],[19.104,1.5],[19.105,-0.5],[19.106,-2.1],[19.107,-1.0],[19.109,0.7],[19.110,-1.5],[19.111,-2.3],[19.112,-0.3],[19.113,-1.8],[19.114,0.2],[19.116,-0.9],[19.118,-1.4],[19.120,0.5],[19.122,-0.6],[19.123,1.1],[19.125,-1.1],[19.126,0.2],[19.128,0.9],[19.129,-0.4],[19.131,1.5],[19.132,0.4],[19.134,-0.9],[19.135,0.7],[19.137,1.2],[19.138,-0.2],[19.140,0.6],[19.141,-1.3],[19.143,1.0],[19.144,0.1],[19.146,-0.6],[19.147,1.6],[19.149,0.3],[19.150,-1.0],[19.152,0.8],[19.153,-0.3],[19.155,1.3],[19.156,0.5],[19.158,-1.5],[19.159,0.0],[19.161,1.1],[19.162,-0.7],[19.164,0.6],[19.165,-1.8],[19.167,0.3],[19.168,1.4],[19.170,-0.5],[19.171,0.9],[19.173,-1.2],[19.175,0.2],[19.176,-2.0],[19.178,0.7],[19.179,-0.4],[19.181,1.0],[19.183,-0.9],[19.184,0.4],[19.186,-1.6],[19.187,1.2],[19.189,-0.2],[19.191,0.6],[19.192,-1.3],[19.194,0.1],[19.196,0.9],[19.197,-0.8],[19.199,1.5],[19.200,0.3],[19.202,-0.5],[19.204,0.8],[19.205,-1.1],[19.207,1.2],[19.209,0.4],[19.210,-0.3],[19.212,1.0],[19.214,-1.7],[19.215,0.2],[19.217,-0.6],[19.219,0.7],[19.220,-1.0],[19.222,1.3],[19.224,0.0],[19.226,-0.4],[19.228,0.9],[19.230,0.4],[19.232,-0.7],[19.234,1.1],[19.236,0.3],[19.238,1.6],[19.240,-0.2],[19.242,0.8],[19.244,1.9],[19.246,0.5],[19.248,1.3],[19.250,-0.5],[19.252,2.0],[19.254,1.0],[19.256,0.2],[19.258,1.5],[19.260,0.7],[19.262,2.2],[19.264,1.2],[19.266,0.4],[19.268,1.8],[19.270,0.9],[19.272,2.1],[19.274,0.3],[19.276,1.4],[19.278,-0.3],[19.280,0.8],[19.282,1.7],[19.284,0.1],[19.286,1.1],[19.288,-0.6],[19.290,0.6],[19.292,1.5],[19.294,-0.2],[19.296,0.9],[19.298,0.3],[19.300,1.2],[19.303,-0.4],[19.306,0.5],[19.309,1.0],[19.312,0.2],[19.318,1.4],[19.322,0.6],[19.326,-0.1],[19.330,0.9],[19.334,0.3],[19.338,1.2],[19.342,0.0],[19.346,-0.5],[19.350,0.4],[19.354,0.8],[19.356,-0.3],[19.357,-0.9],[19.358,-1.5],[19.359,-2.0],[19.360,-2.4],[19.361,0.2],[19.362,-1.1],[19.364,-0.6],[19.366,0.5],[19.368,-0.2],[19.370,1.0],[19.372,-0.8],[19.374,0.3],[19.376,-0.4],[19.378,0.7],[19.380,-0.1],[19.382,0.6],[19.383,-0.9],[19.385,0.3],[19.386,1.1],[19.388,-0.4],[19.389,0.8],[19.391,-1.2],[19.392,0.1],[19.394,0.9],[19.395,-0.6],[19.397,0.4],[19.398,-1.5],[19.400,0.7],[19.401,-0.2],[19.403,1.3],[19.404,-0.8],[19.406,0.2],[19.407,-1.7],[19.409,0.5],[19.410,-0.4],[19.412,1.0],[19.413,-1.1],[19.415,0.0],[19.416,0.8],[19.418,-0.7],[19.419,-1.9],[19.421,0.3],[19.422,-0.5],[19.424,1.2],[19.425,-1.3],[19.427,0.1],[19.428,0.7],[19.430,-0.9],[19.431,-2.2],[19.433,0.4],[19.434,-0.3],[19.436,1.0],[19.437,-1.5],[19.439,0.2],[19.440,-0.6],[19.442,0.9],[19.443,-1.0],[19.445,0.5],[19.446,-2.4],[19.448,-0.2],[19.449,1.3],[19.451,-0.8],[19.452,0.6],[19.454,-1.4],[19.455,0.1],[19.457,1.1],[19.458,-0.4],[19.460,0.8],[19.461,-1.1],[19.463,0.3],[19.464,1.5],[19.466,-0.6],[19.467,0.7],[19.469,-0.1],[19.470,1.2],[19.472,0.4],[19.473,-0.9],[19.475,1.7],[19.476,0.2],[19.478,0.9],[19.479,-0.5],[19.481,1.4],[19.482,0.6],[19.484,-0.2],[19.485,1.9],[19.487,1.0],[19.488,0.3],[19.490,1.6],[19.491,-0.7],[19.493,0.8],[19.494,2.1],[19.496,1.2],[19.497,0.5],[19.499,1.8],[19.500,-0.3],[19.502,1.0],[19.503,2.3],[19.505,0.6],[19.506,1.5],[19.508,0.2],[19.510,1.1],[19.511,2.0],[19.513,0.7],[19.514,1.4],[19.516,-0.4],[19.518,0.9],[19.519,1.7],[19.521,0.3],[19.523,1.2],[19.524,0.6],[19.526,-0.8],[19.528,1.0],[19.529,0.2],[19.531,1.5],[19.533,0.5],[19.534,-0.5],[19.536,-1.6],[19.537,-2.1],[19.539,0.8],[19.541,-0.2],[19.543,1.1],[19.545,0.4],[19.547,-0.6],[19.549,0.9],[19.552,0.1],[19.555,0.6],[19.560,-0.3],[19.566,0.5]];
const xpRusGutGrayCore = [[18.463,0.2],[18.466,0.6],[18.469,-0.2],[18.472,0.4],[18.475,0.9],[18.478,0.1],[18.481,0.5],[18.484,1.1],[18.487,0.4],[18.490,0.0],[18.493,0.6],[18.496,1.0],[18.499,0.3],[18.504,0.5],[18.507,1.1],[18.510,0.2],[18.513,0.8],[18.516,0.4],[18.518,1.2],[18.521,0.6],[18.524,-0.1],[18.527,0.9],[18.529,0.4],[18.532,1.3],[18.535,0.6],[18.538,0.2],[18.540,0.8],[18.543,0.4],[18.546,0.0],[18.548,0.7],[18.551,0.3],[18.554,-0.2],[18.557,0.6],[18.559,0.1],[18.562,-0.5],[18.565,0.3],[18.568,-0.3],[18.570,0.4],[18.573,-0.8],[18.576,0.0],[18.578,-0.4],[18.581,0.5],[18.584,-0.6],[18.586,0.2],[18.589,-0.2],[18.592,0.7],[18.594,0.1],[18.597,0.4],[18.602,0.6],[18.605,1.0],[18.608,0.4],[18.611,0.9],[18.614,0.3],[18.622,0.7],[18.625,1.0],[18.628,0.4],[18.631,0.8],[18.634,0.2],[18.637,1.1],[18.640,0.5],[18.643,0.2],[18.646,0.8],[18.649,0.4],[18.652,1.1],[18.654,0.6],[18.656,0.2],[18.659,0.7],[18.661,-0.3],[18.664,0.3],[18.666,-0.2],[18.669,0.5],[18.671,-0.6],[18.674,0.0],[18.676,0.5],[18.679,-0.5],[18.681,0.2],[18.684,-0.8],[18.686,0.4],[18.688,-0.4],[18.691,0.1],[18.693,-0.9],[18.696,0.5],[18.698,-0.3],[18.701,0.2],[18.703,-0.7],[18.705,0.4],[18.707,0.0],[18.709,-0.5],[18.711,0.3],[18.713,-0.2],[18.715,0.4],[18.717,0.0],[18.719,0.6],[18.721,-0.4],[18.723,0.2],[18.725,0.8],[18.727,0.3],[18.729,-0.2],[18.731,0.4],[18.733,0.8],[19.121,0.2],[19.124,0.7],[19.127,-0.3],[19.130,0.4],[19.133,1.0],[19.136,0.1],[19.139,0.4],[19.142,0.9],[19.145,-0.2],[19.148,0.5],[19.151,0.2],[19.154,0.7],[19.157,-0.4],[19.160,0.4],[19.163,0.9],[19.166,0.0],[19.169,0.6],[19.172,0.2],[19.174,-0.6],[19.177,0.4],[19.180,0.0],[19.182,0.6],[19.185,-0.3],[19.188,0.4],[19.190,-0.5],[19.193,0.7],[19.195,-0.2],[19.198,0.3],[19.201,0.9],[19.203,0.1],[19.206,0.6],[19.208,-0.4],[19.211,0.5],[19.213,0.1],[19.216,0.7],[19.218,-0.2],[19.221,0.4],[19.223,0.9],[19.225,0.5],[19.227,0.1],[19.381,0.2],[19.384,-0.3],[19.387,0.4],[19.390,0.0],[19.393,-0.4],[19.396,0.3],[19.399,-0.6],[19.402,0.2],[19.405,-0.3],[19.408,0.4],[19.411,-0.7],[19.414,-0.2],[19.417,0.3],[19.420,-0.9],[19.423,-0.3],[19.426,0.3],[19.429,-0.5],[19.432,-1.0],[19.435,-0.2],[19.438,-0.7],[19.441,0.1],[19.444,-0.4],[19.447,0.3],[19.450,-0.6],[19.453,0.0],[19.456,0.5],[19.459,-0.3],[19.462,0.4],[19.465,0.9],[19.468,0.3],[19.471,0.7],[19.474,0.2],[19.477,1.0],[19.480,0.5],[19.483,1.2],[19.486,0.4],[19.489,0.9],[19.492,1.3],[19.495,0.6],[19.498,1.1],[19.501,0.7],[19.504,1.4],[19.507,0.9],[19.510,0.4],[19.513,1.0],[19.516,0.6],[19.519,1.1],[19.522,0.7],[19.525,0.3],[19.528,0.7],[19.531,0.2],[19.535,0.5],[19.538,-0.1],[19.542,0.4],[19.546,0.0],[19.550,0.5]];
const xpRusGutRustica = [[18.618,2.7],[18.621,3.0],[18.622,3.3],[19.314,2.5],[19.315,2.6],[19.316,2.55],[19.317,2.5],[19.499,2.5],[19.515,2.5],[19.523,2.8],[19.546,2.65]];
const xpRusGutGutturalis = [[18.945,-2.7],[18.958,-3.4],[19.038,-2.6],[19.156,-2.5],[19.157,-2.7],[19.157,-2.9],[19.158,-3.1],[19.157,-3.3],[19.156,-3.0],[19.368,-2.7],[19.368,-3.0],[19.537,-2.45],[19.538,-2.7],[19.539,-2.95],[19.540,-3.2]];

const xpTytGutGray = [[18.461,0.3],[18.462,-0.5],[18.464,0.9],[18.465,-0.1],[18.467,0.6],[18.468,-1.0],[18.470,1.3],[18.471,0.2],[18.473,-0.6],[18.474,0.8],[18.476,-0.3],[18.477,1.6],[18.479,0.4],[18.480,-1.2],[18.482,0.7],[18.483,-0.2],[18.485,1.1],[18.486,0.0],[18.488,1.9],[18.489,-0.7],[18.491,0.5],[18.492,1.2],[18.494,-0.4],[18.495,0.9],[18.497,-0.9],[18.498,0.3],[18.500,1.5],[18.502,-0.1],[18.503,0.7],[18.505,-0.6],[18.506,1.8],[18.508,0.2],[18.509,-0.3],[18.511,1.0],[18.512,0.6],[18.514,-0.8],[18.515,1.4],[18.517,0.1],[18.519,-0.5],[18.520,0.9],[18.522,-1.1],[18.523,1.2],[18.525,0.4],[18.526,-0.2],[18.528,0.8],[18.530,1.7],[18.531,-0.4],[18.533,0.5],[18.534,-0.9],[18.536,0.2],[18.537,1.0],[18.539,-1.3],[18.541,0.3],[18.542,-0.6],[18.544,0.7],[18.545,-1.6],[18.547,-0.2],[18.549,0.6],[18.550,-1.0],[18.552,0.1],[18.553,-1.8],[18.555,-0.5],[18.556,0.4],[18.558,-1.3],[18.560,-2.0],[18.561,-0.7],[18.563,0.2],[18.564,-1.1],[18.566,-1.9],[18.567,-0.4],[18.569,0.5],[18.571,-0.9],[18.572,-1.5],[18.574,0.0],[18.575,-2.4],[18.577,-0.6],[18.579,0.8],[18.580,-1.2],[18.582,-0.3],[18.583,1.2],[18.585,-0.8],[18.587,0.4],[18.588,-1.4],[18.590,0.9],[18.591,-0.1],[18.593,1.4],[18.595,0.3],[18.596,-0.5],[18.598,1.0],[18.600,0.5],[18.602,-0.3],[18.603,1.3],[18.605,0.7],[18.606,-0.9],[18.608,1.6],[18.609,0.2],[18.611,1.1],[18.612,-0.4],[18.614,2.0],[18.615,0.8],[18.617,1.4],[18.618,-0.7],[18.619,0.3],[18.620,2.2],[18.621,1.7],[18.622,1.0],[18.623,-0.2],[18.624,0.6],[18.626,1.3],[18.627,-0.5],[18.629,0.9],[18.630,0.1],[18.632,1.6],[18.633,-0.8],[18.635,0.4],[18.636,1.1],[18.638,-0.3],[18.639,0.7],[18.641,1.4],[18.642,-0.6],[18.644,0.2],[18.645,1.0],[18.647,-1.0],[18.648,0.5],[18.650,1.2],[18.651,-0.4],[18.653,0.8],[18.654,0.0],[18.656,1.5],[18.657,-0.7],[18.659,0.3],[18.660,1.0],[18.662,-0.2],[18.664,0.6],[18.665,-1.1],[18.667,0.4],[18.669,1.3],[18.670,-0.5],[18.672,0.1],[18.674,0.9],[18.675,-0.8],[18.677,0.5],[18.679,-0.3],[18.680,1.1],[18.682,-1.3],[18.684,0.2],[18.686,0.7],[18.687,-0.6],[18.689,0.3],[18.691,-1.0],[18.693,0.6],[18.694,-0.2],[18.696,0.9],[18.698,-1.4],[18.700,0.1],[18.702,-0.7],[18.704,0.4],[18.706,-0.4],[18.708,0.8],[18.710,-1.1],[18.712,0.2],[18.714,-0.5],[18.716,0.6],[18.718,-0.9],[18.720,1.0],[18.722,-2.2],[18.724,0.3],[18.726,1.6],[18.728,0.7],[18.730,1.9],[18.732,2.2],[18.734,1.2],[18.736,0.5],[18.740,0.4],[18.742,-0.2],[18.744,0.7],[18.745,0.1],[18.747,-0.5],[18.749,0.9],[18.750,0.3],[18.752,-0.3],[18.754,0.6],[18.755,0.0],[18.757,1.0],[18.759,-0.6],[18.760,0.4],[18.762,0.8],[18.764,-0.1],[18.765,0.5],[18.767,1.1],[18.769,-0.4],[18.770,0.2],[18.772,0.7],[18.774,-0.2],[18.776,1.2],[18.778,0.3],[18.780,0.9],[18.782,-0.5],[18.784,0.5],[18.786,1.4],[18.788,0.1],[18.790,0.8],[18.792,-0.3],[18.794,0.4],[18.797,1.0],[18.800,0.2],[18.803,1.5],[18.806,2.0],[18.808,1.2],[18.810,1.7],[18.812,0.6],[18.815,1.4],[18.818,0.3],[18.822,0.9],[18.826,-0.2],[18.830,0.4],[18.835,1.6],[18.842,-0.4],[18.850,0.1],[18.856,0.9],[18.862,1.5],[18.866,2.0],[18.870,1.3],[18.876,0.5],[18.882,0.8],[18.888,-0.5],[18.892,-0.9],[18.895,-1.3],[18.897,-1.7],[18.899,-2.0],[18.901,-1.1],[18.903,-1.5],[18.905,-2.2],[18.908,-0.8],[18.912,-1.8],[18.915,0.5],[18.918,0.8],[18.922,0.3],[18.930,-0.6],[18.934,-1.0],[18.938,-1.5],[18.942,-1.8],[18.946,-2.2],[18.950,-1.6],[18.954,-1.9],[18.958,-1.3],[18.962,-0.8],[18.966,-0.9],[18.970,-0.5],[18.975,-0.2],[18.980,0.0],[18.986,-0.3],[18.992,0.4],[18.998,0.1],[19.004,0.6],[19.010,0.8],[19.016,0.9],[19.022,0.5],[19.028,1.3],[19.034,1.5],[19.040,1.1],[19.046,1.8],[19.050,0.4],[19.055,1.9],[19.060,2.3],[19.064,1.6],[19.068,0.9],[19.072,2.1],[19.080,2.2],[19.086,1.5],[19.090,0.9],[19.094,1.4],[19.104,1.6],[19.106,0.8],[19.108,0.2],[19.110,-0.4],[19.112,0.5],[19.114,-1.0],[19.115,-1.6],[19.116,-0.6],[19.117,-2.0],[19.118,-1.3],[19.119,-2.4],[19.120,-0.9],[19.121,-1.8],[19.122,-2.2],[19.123,-1.1],[19.124,-0.3],[19.126,-1.5],[19.128,0.3],[19.130,-0.8],[19.132,0.9],[19.134,-0.2],[19.136,1.3],[19.138,0.5],[19.140,1.8],[19.142,0.2],[19.144,1.1],[19.146,-0.5],[19.148,0.7],[19.150,1.5],[19.152,0.0],[19.154,1.2],[19.156,2.0],[19.158,0.6],[19.160,1.6],[19.162,-0.3],[19.164,1.0],[19.166,2.3],[19.168,0.4],[19.170,1.4],[19.172,-0.6],[19.174,0.8],[19.176,1.9],[19.178,0.2],[19.180,1.2],[19.182,-0.9],[19.184,0.5],[19.186,2.1],[19.188,1.5],[19.190,0.9],[19.192,-0.4],[19.194,1.7],[19.196,0.3],[19.198,1.1],[19.200,-1.1],[19.202,0.6],[19.204,-0.3],[19.206,1.0],[19.208,-1.5],[19.210,0.2],[19.212,-0.8],[19.214,0.5],[19.216,-1.9],[19.218,-1.2],[19.220,-0.5],[19.222,-1.6],[19.224,-2.2],[19.226,-1.0],[19.228,-1.8],[19.230,-1.3],[19.232,-2.0],[19.234,-0.7],[19.236,-1.5],[19.238,-2.3],[19.240,-1.1],[19.242,-0.4],[19.244,-1.7],[19.246,-0.9],[19.248,-2.1],[19.250,-1.2],[19.252,-0.6],[19.254,0.2],[19.256,-1.0],[19.258,0.6],[19.260,-0.3],[19.262,1.0],[19.264,0.3],[19.266,-0.7],[19.268,1.3],[19.270,0.5],[19.272,1.8],[19.274,0.0],[19.276,0.9],[19.278,2.2],[19.280,1.4],[19.282,0.6],[19.284,1.7],[19.286,2.3],[19.288,0.8],[19.290,1.2],[19.292,2.0],[19.294,0.4],[19.296,1.5],[19.298,1.0],[19.300,2.1],[19.302,0.7],[19.304,1.6],[19.306,1.1],[19.308,2.2],[19.310,0.3],[19.312,1.4],[19.314,0.8],[19.316,1.9],[19.320,1.3],[19.324,0.5],[19.328,1.6],[19.332,0.2],[19.336,1.0],[19.340,-0.4],[19.343,0.6],[19.345,-0.2],[19.347,0.9],[19.349,0.2],[19.351,-0.6],[19.353,0.5],[19.355,-1.0],[19.357,0.1],[19.359,0.8],[19.361,-0.4],[19.363,0.3],[19.365,-1.2],[19.367,0.7],[19.369,-0.3],[19.371,0.4],[19.373,-0.8],[19.375,0.1],[19.377,1.0],[19.379,-0.5],[19.381,0.3],[19.383,-1.4],[19.385,-0.2],[19.387,0.6],[19.389,-0.9],[19.391,0.2],[19.393,-1.7],[19.395,-0.5],[19.397,0.4],[19.399,-1.2],[19.401,-0.1],[19.403,-2.0],[19.405,-0.8],[19.407,0.3],[19.409,-1.5],[19.411,-2.3],[19.413,-0.6],[19.415,-1.1],[19.417,-1.8],[19.419,-0.3],[19.421,-2.4],[19.423,-1.4],[19.425,-0.7],[19.427,0.1],[19.429,-1.0],[19.431,0.4],[19.433,-0.4],[19.435,0.8],[19.437,-1.3],[19.439,0.2],[19.441,-0.6],[19.443,1.0],[19.445,0.0],[19.447,-0.9],[19.449,0.5],[19.451,1.3],[19.453,-0.3],[19.455,0.7],[19.457,-1.1],[19.459,0.3],[19.461,1.1],[19.463,-0.5],[19.465,0.6],[19.467,-0.1],[19.469,1.4],[19.471,-0.8],[19.473,0.4],[19.475,0.9],[19.477,-0.3],[19.479,1.2],[19.481,-1.2],[19.483,0.2],[19.485,0.8],[19.487,-0.6],[19.489,1.5],[19.491,0.1],[19.493,-0.4],[19.495,0.9],[19.497,1.4],[19.499,-0.9],[19.501,0.5],[19.503,-0.2],[19.505,1.1],[19.507,0.3],[19.509,-1.3],[19.511,0.7],[19.513,1.6],[19.515,-0.5],[19.517,0.4],[19.519,1.0],[19.521,-0.8],[19.523,0.2],[19.525,1.3],[19.527,-0.2],[19.529,0.6],[19.531,1.5],[19.533,-1.0],[19.535,-1.6],[19.537,0.3],[19.539,-2.1],[19.541,0.8],[19.543,-0.4],[19.545,1.2],[19.547,0.1],[19.549,-0.7],[19.551,0.6],[19.554,1.0],[19.557,-0.3],[19.560,0.5],[19.565,0.9]];
const xpTytGutGrayCore = [[18.463,0.1],[18.466,0.5],[18.469,-0.3],[18.472,0.4],[18.475,0.8],[18.478,0.0],[18.481,0.4],[18.484,-0.4],[18.487,0.6],[18.490,0.2],[18.493,0.6],[18.496,0.1],[18.499,0.7],[18.501,-0.4],[18.504,0.4],[18.507,0.9],[18.510,0.3],[18.513,0.6],[18.516,0.2],[18.518,0.8],[18.521,0.3],[18.524,0.7],[18.527,0.0],[18.529,0.5],[18.532,0.1],[18.535,-0.3],[18.538,0.4],[18.540,-0.2],[18.543,0.0],[18.546,-0.6],[18.548,0.2],[18.551,-0.4],[18.554,-0.8],[18.557,-0.2],[18.559,-0.7],[18.562,-1.3],[18.565,-0.3],[18.568,-0.8],[18.570,-0.2],[18.573,-0.6],[18.576,-1.0],[18.578,-0.3],[18.581,0.1],[18.584,-0.4],[18.586,0.3],[18.589,0.0],[18.592,0.5],[18.594,0.1],[18.597,0.7],[18.601,0.3],[18.604,0.9],[18.607,0.4],[18.610,0.8],[18.613,0.3],[18.616,0.9],[18.625,0.9],[18.628,0.4],[18.631,0.8],[18.634,0.2],[18.637,0.7],[18.640,0.3],[18.643,0.6],[18.646,0.1],[18.649,0.7],[18.652,0.3],[18.655,0.6],[18.658,0.1],[18.661,0.5],[18.663,0.2],[18.666,0.6],[18.668,-0.1],[18.671,0.3],[18.673,-0.4],[18.676,0.2],[18.678,0.6],[18.681,-0.2],[18.683,0.3],[18.685,-0.4],[18.688,0.1],[18.690,-0.3],[18.692,0.3],[18.695,-0.5],[18.697,0.2],[18.699,-0.2],[18.701,0.4],[18.703,-0.3],[18.705,0.1],[18.741,0.2],[18.743,0.6],[18.746,0.3],[18.748,0.0],[18.751,0.5],[18.753,0.2],[18.756,0.4],[18.758,0.1],[18.761,0.3],[18.763,0.6],[18.766,0.2],[18.768,0.5],[18.771,0.3],[18.773,0.0],[18.775,0.5],[18.777,0.8],[18.779,0.1],[18.781,0.4],[18.783,0.7],[18.785,0.2],[18.787,0.6],[19.141,1.0],[19.143,0.6],[19.145,1.3],[19.147,0.3],[19.149,1.0],[19.151,0.6],[19.153,1.4],[19.155,0.9],[19.157,1.2],[19.159,0.4],[19.161,1.0],[19.163,1.5],[19.165,0.7],[19.167,1.2],[19.169,0.9],[19.171,0.3],[19.173,1.1],[19.175,0.6],[19.177,1.3],[19.179,0.8],[19.181,0.4],[19.183,1.0],[19.185,0.8],[19.187,0.3],[19.189,1.3],[19.191,0.5],[19.193,0.0],[19.195,0.8],[19.197,-0.3],[19.199,0.4],[19.201,-0.5],[19.203,0.2],[19.205,-0.8],[19.207,-0.2],[19.209,-0.6],[19.211,-1.2],[19.213,-0.3],[19.215,-0.9],[19.217,-0.5],[19.342,0.2],[19.346,0.5],[19.350,0.0],[19.354,0.4],[19.358,-0.4],[19.362,0.2],[19.366,-0.3],[19.370,0.0],[19.374,-0.4],[19.378,0.4],[19.382,-0.3],[19.386,0.2],[19.390,-0.5],[19.394,0.0],[19.398,-0.7],[19.402,-0.3],[19.406,-1.2],[19.410,-0.5],[19.414,-1.5],[19.418,-0.9],[19.422,-1.7],[19.426,-0.4],[19.430,0.1],[19.434,-0.6],[19.438,0.0],[19.442,0.3],[19.446,-0.3],[19.450,0.2],[19.454,0.6],[19.458,-0.2],[19.462,0.3],[19.466,0.8],[19.470,0.1],[19.474,-0.5],[19.478,0.5],[19.482,0.0],[19.486,0.4],[19.490,-0.2],[19.494,0.3],[19.498,0.6],[19.502,0.1],[19.506,0.5],[19.510,0.2],[19.514,0.8],[19.518,0.0],[19.522,0.6],[19.526,0.3],[19.530,0.9],[19.534,0.4],[19.538,-0.4],[19.542,0.3],[19.546,0.7],[19.550,0.2],[19.555,0.5]];
const xpTytGutTytleri = [[18.624,2.6],[18.624,2.45],[18.730,3.25],[18.732,3.0],[18.732,2.75],[18.734,2.55],[18.738,2.45],[18.743,2.5],[18.747,2.5],[18.754,2.5],[18.761,2.45],[18.813,2.75],[18.868,2.55],[18.868,2.4],[19.079,4.1],[19.079,3.9],[19.080,3.65],[19.080,3.5],[19.083,2.9],[19.084,2.75],[19.088,2.7],[19.193,2.75],[19.318,3.35],[19.318,3.15],[19.319,2.9],[19.320,2.55]];
const xpTytGutGutturalis = [[18.907,-2.5],[18.907,-2.8],[18.908,-3.0],[19.155,-2.7],[19.155,-3.0],[19.156,-3.35],[19.253,-2.65],[19.425,-2.65],[19.425,-3.15],[19.538,-2.65],[19.539,-2.8]];

// gene models: [start, end] in Mb, track row, strand
const genes = [
  {name:"", start:18.599, end:18.672, row:1, strand:"+", focal:false},
  {name:"", start:18.684, end:18.708, row:1, strand:"+", focal:false},
  {name:"", start:18.716, end:18.745, row:1, strand:"+", focal:false},
  {name:"", start:18.772, end:18.781, row:1, strand:"+", focal:false},
  {name:"PRLR", start:18.912, end:19.066, row:1, strand:"+", focal:true},
  {name:"", start:19.070, end:19.088, row:1, strand:"+", focal:false},
  {name:"", start:19.300, end:19.352, row:1, strand:"+", focal:false},
  {name:"SLC45A2", start:19.350, end:19.367, row:1, strand:"+", focal:true},
  {name:"", start:18.711, end:18.720, row:2, strand:"-", focal:false},
  {name:"", start:18.797, end:18.806, row:2, strand:"-", focal:false},
  {name:"SPEF2", start:18.835, end:18.917, row:2, strand:"-", focal:true},
  {name:"", start:19.089, end:19.096, row:2, strand:"-", focal:false},
  {name:"", start:19.139, end:19.230, row:2, strand:"-", focal:false},
  {name:"", start:19.377, end:19.384, row:2, strand:"-", focal:false}
];
const exons = [[18.630,1],[18.650,1],[18.658,1],[18.664,1],[18.692,1],[18.700,1],[18.724,1],[18.732,1],[18.740,1],[18.776,1],[19.074,1],[19.084,1],[19.306,1],[19.318,1],[19.330,1],[19.342,1],[18.714,2],[18.717,2],[18.800,2],[18.803,2],[18.862,2],[18.870,2],[18.878,2],[18.885,2],[18.892,2],[18.900,2],[18.908,2],[19.143,2],[19.150,2],[19.157,2],[19.222,2],[19.093,2],[19.381,2]];
const geneLabels = [["PRLR",18.977,1],["SPEF2",18.910,2],["SLC45A2",19.419,1]];
const geneRowLevel = {1:0.6, 2:0.447};   // PBS-axis level of each gene row

// axes
const xTicks = [18.6, 18.8, 19.0, 19.2, 19.4];
const xTickLabels = ["18.6", "", "19.0", "", "19.4"];
const pbsTicks = [0,0.1,0.2,0.3,0.4,0.5,0.6,0.7];
const pbsTickLabels = ["0.0","","0.2","","0.4","","0.6",""];
const piTicks = [0,0.001,0.002,0.003,0.004,0.005,0.006,0.007];
const piTickLabels = ["0.0","","","0.003","","","0.006",""];
const tajTicks = [-2,-1.5,-1,-0.5,0];
const tajTickLabels = ["\u22122.0","","\u22121.0","","0.0"];
const xpTicks = [-6,-4,-2,0,2,4,6];
const xpTickLabels = ["\u22126","","","0","","","6"];

// candidate region
const region = [18.743, 19.385];

// ---------------- drawing ----------------
const col = {rustica:"#B3305F", tytleri:"#E8AA1F", gutturalis:"#69A5D1", gray:"#CDCDCD"};
const svg = d3.select("#chart");
const x = d3.scaleLinear().domain([18.46, 19.583]).range([119.3, 555.7]);
const X0 = x.range()[0], X1 = x.range()[1];

const panels = [
  {id:"pbs", top:5, bottom:180, domain:[-0.026,0.738], ticks:pbsTicks, labels:pbsTickLabels, title:"PBS"},
  {id:"pi", top:229, bottom:406, domain:[-0.000231,0.0075], ticks:piTicks, labels:piTickLabels, title:"\u03C0"},
  {id:"taj", top:459, bottom:634, domain:[-2.332,0.112], ticks:tajTicks, labels:tajTickLabels, title:"taj"},
  {id:"xp1", top:687, bottom:861, domain:[-6.4,6.4], ticks:xpTicks, labels:xpTickLabels, title:"xp\u2212EHH",
    topLab:"rustica", botLab:"tytleri"},
  {id:"xp2", top:913.5, bottom:1087.5, domain:[-6.4,6.4], ticks:xpTicks, labels:xpTickLabels, title:"xp\u2212EHH",
    topLab:"rustica", botLab:"gutturalis"},
  {id:"xp3", top:1140, bottom:1314, domain:[-6.4,6.4], ticks:xpTicks, labels:xpTickLabels, title:"xp\u2212EHH",
    topLab:"tytleri", botLab:"gutturalis"}
];
panels.forEach(p => { p.y = d3.scaleLinear().domain(p.domain).range([p.bottom, p.top]); });

// shaded candidate region spans all panels
svg.append("rect")
  .attr("x", x(region[0])).attr("width", x(region[1]) - x(region[0]))
  .attr("y", 0).attr("height", panels[5].bottom)
  .attr("fill", "#F4F4F4");

const defs = svg.append("defs");
function panelGroup(p) {
  const id = "clip-" + p.id + "-" + defs.selectAll("clipPath").size();
  defs.append("clipPath").attr("id", id)
    .append("rect").attr("x", X0).attr("y", p.top).attr("width", X1 - X0).attr("height", p.bottom - p.top);
  return svg.append("g").attr("clip-path", "url(#" + id + ")");
}

function drawLines(p, series) {
  const g = panelGroup(p);
  const line = d3.line().x(d => x(d[0])).y(d => p.y(d[1]));
  series.forEach(([data, c]) => {
    g.append("path").datum(data).attr("d", line)
      .attr("fill", "none").attr("stroke", c).attr("stroke-width", 1.65)
      .attr("stroke-linejoin", "round");
  });
  return g;
}

function drawPoints(p, layers) {
  const g = panelGroup(p);
  layers.forEach(([data, c]) => {
    g.selectAll(null).data(data).enter().append("circle")
      .attr("cx", d => x(d[0])).attr("cy", d => p.y(d[1])).attr("r", 2.15)
      .attr("fill", c);
  });
  g.append("line").attr("x1", X0).attr("x2", X1)
    .attr("y1", p.y(0)).attr("y2", p.y(0))
    .attr("stroke", "#222").attr("stroke-width", 1.3).attr("stroke-dasharray", "5,4");
  return g;
}

// panel 1: PBS + genes
drawLines(panels[0], [[pbsRustica, col.rustica], [pbsGutturalis, col.gutturalis], [pbsTytleri, col.tytleri]]);
{
  const p = panels[0];
  const gg = svg.append("g");
  genes.forEach(gn => {
    const yy = p.y(geneRowLevel[gn.row]);
    const c = gn.focal ? "#111" : "#8E8E8E";
    gg.append("line").attr("x1", x(gn.start)).attr("x2", x(gn.end))
      .attr("y1", yy).attr("y2", yy).attr("stroke", c).attr("stroke-width", 1.7);
    const tip = gn.strand === "+" ? x(gn.end) : x(gn.start);
    const dir = gn.strand === "+" ? -1 : 1;
    gg.append("path")
      .attr("d", `M${tip},${yy} L${tip + dir * 6.5},${yy - 3.6} L${tip + dir * 6.5},${yy + 3.6} Z`)
      .attr("fill", c);
  });
  exons.forEach(([pos, row]) => {
    const yy = p.y(geneRowLevel[row]);
    gg.append("rect").attr("x", x(pos) - 0.9).attr("width", 1.8)
      .attr("y", yy - 4.5).attr("height", 9).attr("fill", "#9A9A9A").attr("opacity", 0.85);
  });
  geneLabels.forEach(([name, pos, row]) => {
    gg.append("text").attr("x", x(pos)).attr("y", p.y(geneRowLevel[row]) - 8)
      .attr("text-anchor", "middle").attr("font-style", "italic").attr("font-size", 18.5)
      .attr("fill", "#111").text(name);
  });
}

// panel 2: nucleotide diversity
drawLines(panels[1], [[piGutturalis, col.gutturalis], [piTytleri, col.tytleri], [piRustica, col.rustica]]);
[["rustica", 252], ["tytleri", 273], ["gutturalis", 294]].forEach(([name, yy]) => {
  svg.append("text").attr("x", 128).attr("y", yy)
    .attr("font-weight", "bold").attr("font-style", "italic").attr("font-size", 21)
    .attr("fill", col[name]).text(name);
});

// panel 3: Tajima's D with genome-wide means
{
  const p = panels[2];
  const g = panelGroup(p);
  tajMeans.forEach(([name, v]) => {
    g.append("line").attr("x1", X0).attr("x2", X1).attr("y1", p.y(v)).attr("y2", p.y(v))
      .attr("stroke", col[name]).attr("stroke-width", 1.5).attr("stroke-opacity", 0.4)
      .attr("stroke-dasharray", "5,5");
  });
  drawLines(p, [[tajRustica, col.rustica], [tajGutturalis, col.gutturalis], [tajTytleri, col.tytleri]]);
}

// panels 4-6: xp-EHH
drawPoints(panels[3], [[xpRusTytGray, col.gray], [xpRusTytGrayCore, col.gray], [xpRusTytRustica, col.rustica], [xpRusTytTytleri, col.tytleri]]);
drawPoints(panels[4], [[xpRusGutGray, col.gray], [xpRusGutGrayCore, col.gray], [xpRusGutRustica, col.rustica], [xpRusGutGutturalis, col.gutturalis]]);
drawPoints(panels[5], [[xpTytGutGray, col.gray], [xpTytGutGrayCore, col.gray], [xpTytGutTytleri, col.tytleri], [xpTytGutGutturalis, col.gutturalis]]);
panels.slice(3).forEach(p => {
  svg.append("text").attr("x", 126).attr("y", p.top + 19)
    .attr("font-weight", "bold").attr("font-style", "italic").attr("font-size", 21)
    .attr("fill", col[p.topLab]).text(p.topLab);
  svg.append("text").attr("x", 126).attr("y", p.bottom - 9)
    .attr("font-weight", "bold").attr("font-style", "italic").attr("font-size", 21)
    .attr("fill", col[p.botLab]).text(p.botLab);
});

// frames, axes, titles
panels.forEach((p, i) => {
  svg.append("rect").attr("x", X0).attr("y", p.top).attr("width", X1 - X0).attr("height", p.bottom - p.top)
    .attr("fill", "none").attr("stroke", "#1a1a1a").attr("stroke-width", 1.5);

  const ya = svg.append("g").attr("transform", `translate(${X0},0)`)
    .call(d3.axisLeft(p.y).tickValues(p.ticks).tickSize(8.5).tickPadding(7)
      .tickFormat((d, k) => p.labels[k]));
  ya.select(".domain").remove();
  ya.selectAll(".tick line").attr("stroke", "#1a1a1a").attr("stroke-width", 1.4);
  ya.selectAll(".tick text").attr("font-size", 22.5).attr("fill", "#111")
    .attr("font-family", '"Liberation Sans", Arial, Helvetica, sans-serif');

  const last = i === panels.length - 1;
  const xa = svg.append("g").attr("transform", `translate(0,${p.bottom})`)
    .call(d3.axisBottom(x).tickValues(xTicks).tickSize(8).tickPadding(9)
      .tickFormat((d, k) => last ? xTickLabels[k] : ""));
  xa.select(".domain").remove();
  xa.selectAll(".tick line").attr("stroke", "#1a1a1a").attr("stroke-width", 1.4);
  xa.selectAll(".tick text").attr("font-size", 22.5).attr("fill", "#111")
    .attr("font-family", '"Liberation Sans", Arial, Helvetica, sans-serif');

  const isPi = p.id === "pi";
  const cy = (p.top + p.bottom) / 2 + (isPi ? 7 : 0);
  const t = svg.append("text").attr("transform", `translate(${isPi ? 31 : 47},${cy}) rotate(-90)`)
    .attr("text-anchor", "middle").attr("font-size", 26).attr("fill", "#111");
  if (p.title === "taj") {
    t.append("tspan").text("Tajima's ");
    t.append("tspan").attr("font-style", "italic").text("D");
  } else {
    t.text(p.title);
  }
});

svg.append("text").attr("x", (X0 + X1) / 2).attr("y", 1382)
  .attr("text-anchor", "middle").attr("font-size", 26).attr("fill", "#111")
  .text("Chromosome Position (Mb)");
</script>
</body>
</html>
